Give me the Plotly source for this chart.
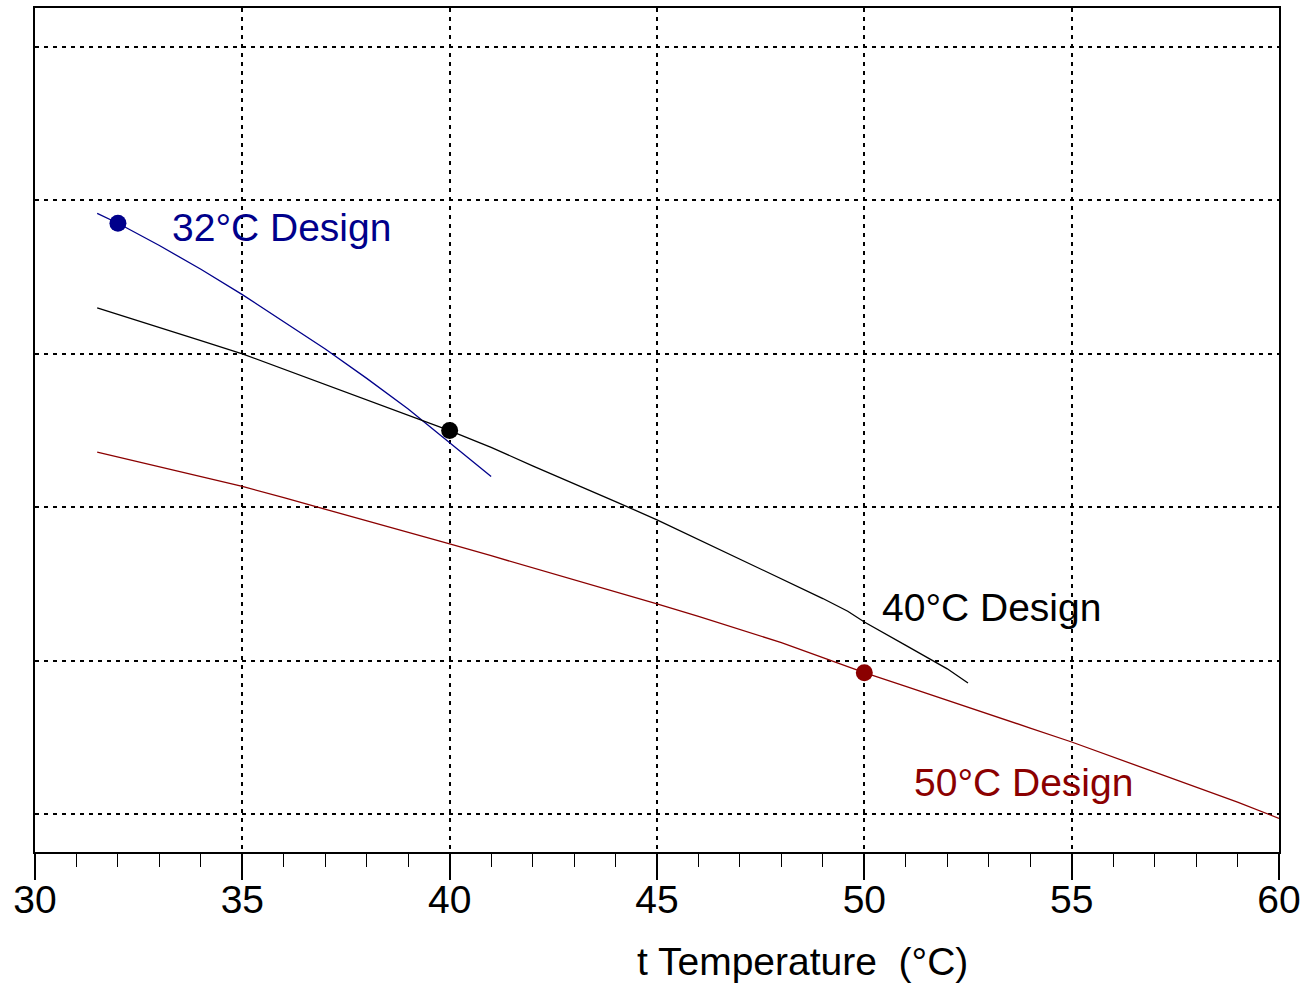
import plotly.graph_objects as go

# Temperature axis (°C)
x_32 = [31.5, 32, 33, 34, 35, 36, 37, 38, 39, 40, 41]
y_32 = [3.915, 3.851, 3.706, 3.551, 3.386, 3.211, 3.031, 2.84, 2.64, 2.42, 2.20]

x_40 = [31.5, 32, 33, 34, 35, 36, 37, 38, 39, 40, 40.73, 41, 42, 43, 44, 45, 46, 47, 48, 49, 49.6, 50, 51, 52, 52.5]
y_40 = [3.30, 3.258, 3.172, 3.086, 3.0, 2.90, 2.80, 2.70, 2.60, 2.50, 2.42, 2.39, 2.27, 2.155, 2.037,
        1.918, 1.791, 1.664, 1.535, 1.405, 1.322, 1.252, 1.10, 0.947, 0.854]

x_50 = [31.5, 32, 33, 34, 35, 36, 37, 38, 39, 40, 41, 42, 43, 44, 45, 46, 47, 47.5, 48, 49, 50,
        51, 52, 53, 54, 55, 56, 57, 58, 59, 60]
y_50 = [2.36, 2.328, 2.264, 2.200, 2.136, 2.062, 1.988, 1.912, 1.837, 1.762, 1.684, 1.606, 1.528,
        1.449, 1.370, 1.288, 1.205, 1.164, 1.118, 1.020, 0.922, 0.832, 0.743, 0.652, 0.561, 0.470,
        0.372, 0.274, 0.176, 0.078, -0.028]

# design points
design_x = [32, 40, 50]
design_y = [3.851, 2.50, 0.922]

labels = ["32°C Design", "40°C Design", "50°C Design"]
label_x = [33.26, 50.38, 51.15]
label_y = [3.825, 1.345, 0.205]

x_ticks = [30, 35, 40, 45, 50, 55, 60]
y_grid = [0, 1, 2, 3, 4, 5]

BLUE = "#00008B"
BLACK = "#000000"
RED = "#8B0000"
colors = [BLUE, BLACK, RED]
FONT = "Liberation Sans, Arial, Helvetica, sans-serif"
FS = 39

fig = go.Figure()
for xs, ys, c in [(x_32, y_32, BLUE), (x_40, y_40, BLACK), (x_50, y_50, RED)]:
    fig.add_trace(go.Scatter(x=xs, y=ys, mode="lines",
                             line=dict(color=c, width=1.3), showlegend=False,
                             hoverinfo="skip"))

fig.add_trace(go.Scatter(x=design_x, y=design_y, mode="markers",
                         marker=dict(color=colors, size=17, line=dict(width=0)),
                         showlegend=False))

for t, lx, ly, c in zip(labels, label_x, label_y, colors):
    fig.add_annotation(x=lx, y=ly, text=t, showarrow=False, xanchor="left",
                       yanchor="middle", font=dict(family=FONT, size=FS, color=c))

# axis title, set right of centre
fig.add_annotation(x=0.6166, xref="paper", y=-0.130, yref="paper",
                   text="t Temperature  (°C)", showarrow=False,
                   xanchor="center", yanchor="middle",
                   font=dict(family=FONT, size=FS, color="black"))

fig.update_layout(
    width=1316, height=986,
    margin=dict(l=35, r=37, t=6, b=134),
    paper_bgcolor="white", plot_bgcolor="white",
    font=dict(family=FONT, size=FS, color="black"),
)

fig.update_xaxes(
    range=[30, 60], tickvals=x_ticks, ticks="outside", ticklen=26, tickwidth=1.5,
    tickcolor="black", showline=True, linecolor="black", linewidth=1.8, mirror=True,
    showgrid=True, gridcolor="black", gridwidth=1.5, griddash="4px,5px",
    zeroline=False, tickfont=dict(size=FS), ticklabelstandoff=-14,
    minor=dict(dtick=1, ticks="outside", ticklen=13, tickwidth=1.3, tickcolor="black",
               showgrid=False),
)
fig.update_yaxes(
    range=[-0.247, 5.254], tickvals=y_grid, showticklabels=False, ticks="",
    showline=True, linecolor="black", linewidth=1.8, mirror=True,
    showgrid=True, gridcolor="black", gridwidth=1.5, griddash="4px,5px",
    zeroline=False,
)

fig.write_html("out.html")
